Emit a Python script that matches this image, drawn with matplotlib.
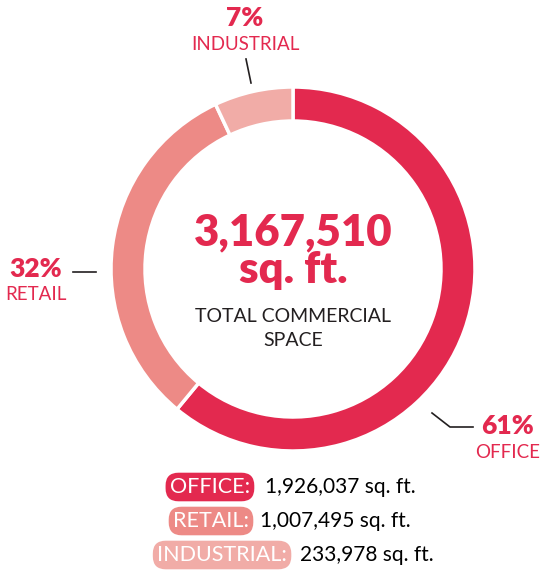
#
# Donut chart of total commercial space by use
#
import matplotlib.pyplot as plt

# Data
categories = ['OFFICE', 'RETAIL', 'INDUSTRIAL']
shares = [61, 32, 7]
areas = ['1,926,037', '1,007,495', '233,978']
total = '3,167,510'

# Style
colors = ['#E3294F', '#ED8A86', '#F1ACA7']
dark = '#231F20'
plt.rcParams['font.family'] = ['Lato', 'DejaVu Sans']

fig = plt.figure(figsize=[5.42, 5.71], dpi=100, facecolor='white')
ax = fig.add_axes([0, 0, 1, 1])

# donut (y axis is flipped below, so start at -90 and go counterclock in data)
cx, cy, R = 293, 269, 182
ax.pie(shares, colors=colors, startangle=-90, counterclock=True,
       center=(cx, cy), radius=R,
       wedgeprops=dict(width=34, edgecolor='white', linewidth=2.5))
ax.set_xlim(0, 542)
ax.set_ylim(571, 0)
ax.set_aspect('equal')
ax.axis('off')

# centre text
ax.text(cx, 232, total, ha='center', va='center', fontsize=31.5,
        fontweight='heavy', color=colors[0])
ax.text(cx, 270, 'sq. ft.', ha='center', va='center', fontsize=31.5,
        fontweight='heavy', color=colors[0])
ax.text(cx, 316, 'TOTAL COMMERCIAL', ha='center', va='center',
        fontsize=14, color=dark)
ax.text(cx, 340, 'SPACE', ha='center', va='center', fontsize=14, color=dark)

# callouts: (percent x, percent y, name y)
callouts = {
    'OFFICE': (508, 426, 453),
    'RETAIL': (36, 269, 295),
    'INDUSTRIAL': (245, 18, 44),
}
for cat, sh in zip(categories, shares):
    px, py, ny = callouts[cat]
    ax.text(px, py, '%d%%' % sh, ha='center', va='center', fontsize=19,
            fontweight='heavy', color=colors[0])
    ax.text(px, ny, cat, ha='center', va='center', fontsize=13.5,
            color=colors[0])

# leader lines
ax.plot([432, 450, 473], [413, 427, 427], color=dark, linewidth=1.2)
ax.plot([73, 96], [272, 272], color=dark, linewidth=1.2)
ax.plot([246, 251], [59, 83], color=dark, linewidth=1.2)

# legend pills
pill_right = [250, 249, 287]
value_left = [265, 260, 300]
rows_y = [487, 521, 555]
for cat, area, col, xr, xv, y in zip(categories, areas, colors,
                                     pill_right, value_left, rows_y):
    ax.text(xr, y, cat + ':', ha='right', va='center', fontsize=15.5,
            color='white',
            bbox=dict(boxstyle='round,pad=0.2,rounding_size=0.6',
                      facecolor=col, edgecolor='none'))
    ax.text(xv, y, area + ' sq. ft.', ha='left', va='center', fontsize=15,
            color='black')

plt.savefig('out.png', dpi=100, facecolor='white')
plt.close()
